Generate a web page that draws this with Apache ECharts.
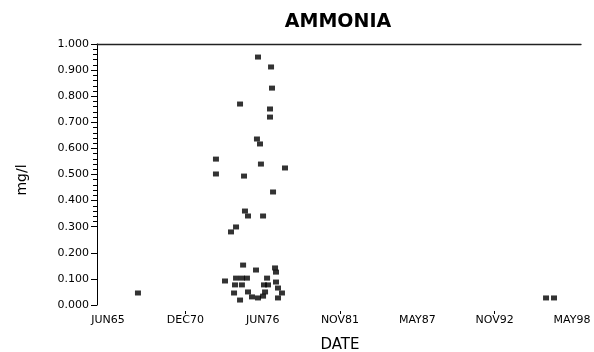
<!DOCTYPE html>
<html>
<head>
<meta charset="utf-8">
<script src="https://cdn.jsdelivr.net/npm/echarts@6/dist/echarts.min.js"></script>
<style>html,body{margin:0;padding:0;background:#fff}#c{width:594px;height:352px}</style>
</head>
<body>
<div id="c"></div>
<script>
// x values: months since JUN 1965
var xTickLabels = ['JUN65', 'DEC70', 'JUN76', 'NOV81', 'MAY87', 'NOV92', 'MAY98'];
var xTickMonths = [0, 65.83, 131.67, 197.5, 263.33, 329.17, 395];
var xMarkMonths = [65.83, 197.5, 329.17];
var yTickLabels = ['0.000','0.100','0.200','0.300','0.400','0.500','0.600','0.700','0.800','0.900','1.000'];

var sampleMonths = [
  127.7, 138.8, 139.6, 112.4, 137.9, 137.9, 126.8, 129.4, 91.9, 130.2,
  150.7, 91.9, 115.8, 140.5, 116.6, 119.2, 132.0, 109.0, 104.7,
  115.0, 126.0, 142.2, 143.0, 109.0, 114.0, 118.3, 135.4, 99.6,
  108.1, 114.0, 132.8, 136.2, 143.0, 144.7, 107.3, 119.2, 133.7,
  148.1, 122.6, 127.7, 132.0, 112.4, 144.7,
  25.5, 372.9, 379.7
];
var ammonia = [
  0.950, 0.912, 0.831, 0.770, 0.751, 0.720, 0.636, 0.617, 0.559, 0.540,
  0.525, 0.502, 0.494, 0.433, 0.360, 0.341, 0.341, 0.299, 0.280,
  0.153, 0.134, 0.142, 0.126, 0.103, 0.103, 0.103, 0.103, 0.092,
  0.077, 0.077, 0.077, 0.077, 0.088, 0.065, 0.046, 0.050, 0.050,
  0.046, 0.031, 0.027, 0.034, 0.019, 0.027,
  0.046, 0.027, 0.027
];

var points = sampleMonths.map(function (m, i) { return [m, ammonia[i]]; });
var font = 'DejaVu Sans';
var hiddenX = function (g) {
  return {gridIndex: g, type: 'value', min: 0, max: 1, show: false};
};
var chart = echarts.init(document.getElementById('c'), null, {renderer: 'canvas'});
chart.setOption({
  animation: false,
  backgroundColor: '#fff',
  title: {
    text: 'AMMONIA', left: 333, top: 8, textAlign: 'center',
    textStyle: {fontFamily: font, fontSize: 19, fontWeight: 'bold', color: '#000'}
  },
  graphic: [{
    type: 'text', x: 22, y: 180, rotation: Math.PI / 2,
    style: {text: 'mg/l', fontFamily: font, fontSize: 14, fill: '#000',
            align: 'center', verticalAlign: 'middle'}
  }],
  grid: [
    {left: 97, right: 13, top: 44, bottom: 47, outerBoundsMode: 'none'},
    {left: 108, right: 22, top: 44, bottom: 47, outerBoundsMode: 'none'},
    // narrow strips left of the value axis: major and minor tick marks
    {left: 91, right: 497, top: 44, bottom: 47, outerBoundsMode: 'none'},
    {left: 93, right: 497, top: 44, bottom: 130.5, outerBoundsMode: 'none'}
  ],
  xAxis: [
    {gridIndex: 0, type: 'value', position: 'top', min: 0, max: 1,
     axisLine: {show: true, onZero: false, lineStyle: {color: '#222', width: 1.3}},
     axisTick: {show: false}, axisLabel: {show: false}, splitLine: {show: false}},
    {gridIndex: 1, type: 'value', position: 'bottom', min: 0, max: 395, offset: 6,
     axisLine: {show: false, onZero: false},
     axisTick: {show: true, length: 3, customValues: xMarkMonths, lineStyle: {color: '#000'}},
     axisLabel: {show: true, customValues: xTickMonths, margin: 4, color: '#000',
       fontFamily: font, fontSize: 11,
       formatter: function (v) {
         var i = xTickMonths.findIndex(function (t) { return Math.abs(t - v) < 1; });
         return i >= 0 ? xTickLabels[i] : '';
       }},
     splitLine: {show: false},
     name: 'DATE', nameLocation: 'middle', nameGap: 27,
     nameTextStyle: {fontFamily: font, fontSize: 15, color: '#000'}},
    hiddenX(2), hiddenX(3)
  ],
  yAxis: [
    {gridIndex: 0, type: 'value', min: 0, max: 1, interval: 0.1,
     axisLine: {show: true, onZero: false, lineStyle: {color: '#000', width: 1}},
     axisTick: {show: true, length: 6, lineStyle: {color: '#000'}},
     axisLabel: {color: '#000', fontFamily: font, fontSize: 11, margin: 8,
       formatter: function (v) { return yTickLabels[Math.round(v * 10)]; }},
     splitLine: {show: false}},
    {gridIndex: 1, type: 'value', min: 0, max: 1, show: false},
    {gridIndex: 2, type: 'value', min: 0, max: 1, interval: 0.1,
     axisLine: {show: false, onZero: false}, axisTick: {show: false}, axisLabel: {show: false},
     splitLine: {show: true, lineStyle: {color: '#000', width: 1}}},
    {gridIndex: 3, type: 'value', min: 0.32, max: 1, interval: 0.02,
     axisLine: {show: false, onZero: false}, axisTick: {show: false}, axisLabel: {show: false},
     splitLine: {show: true, lineStyle: {color: '#000', width: 1}}}
  ],
  series: [{
    type: 'scatter', xAxisIndex: 1, yAxisIndex: 1,
    symbol: 'rect', symbolSize: [6, 5],
    itemStyle: {color: '#000'},
    data: points
  }]
});
</script>
</body>
</html>
